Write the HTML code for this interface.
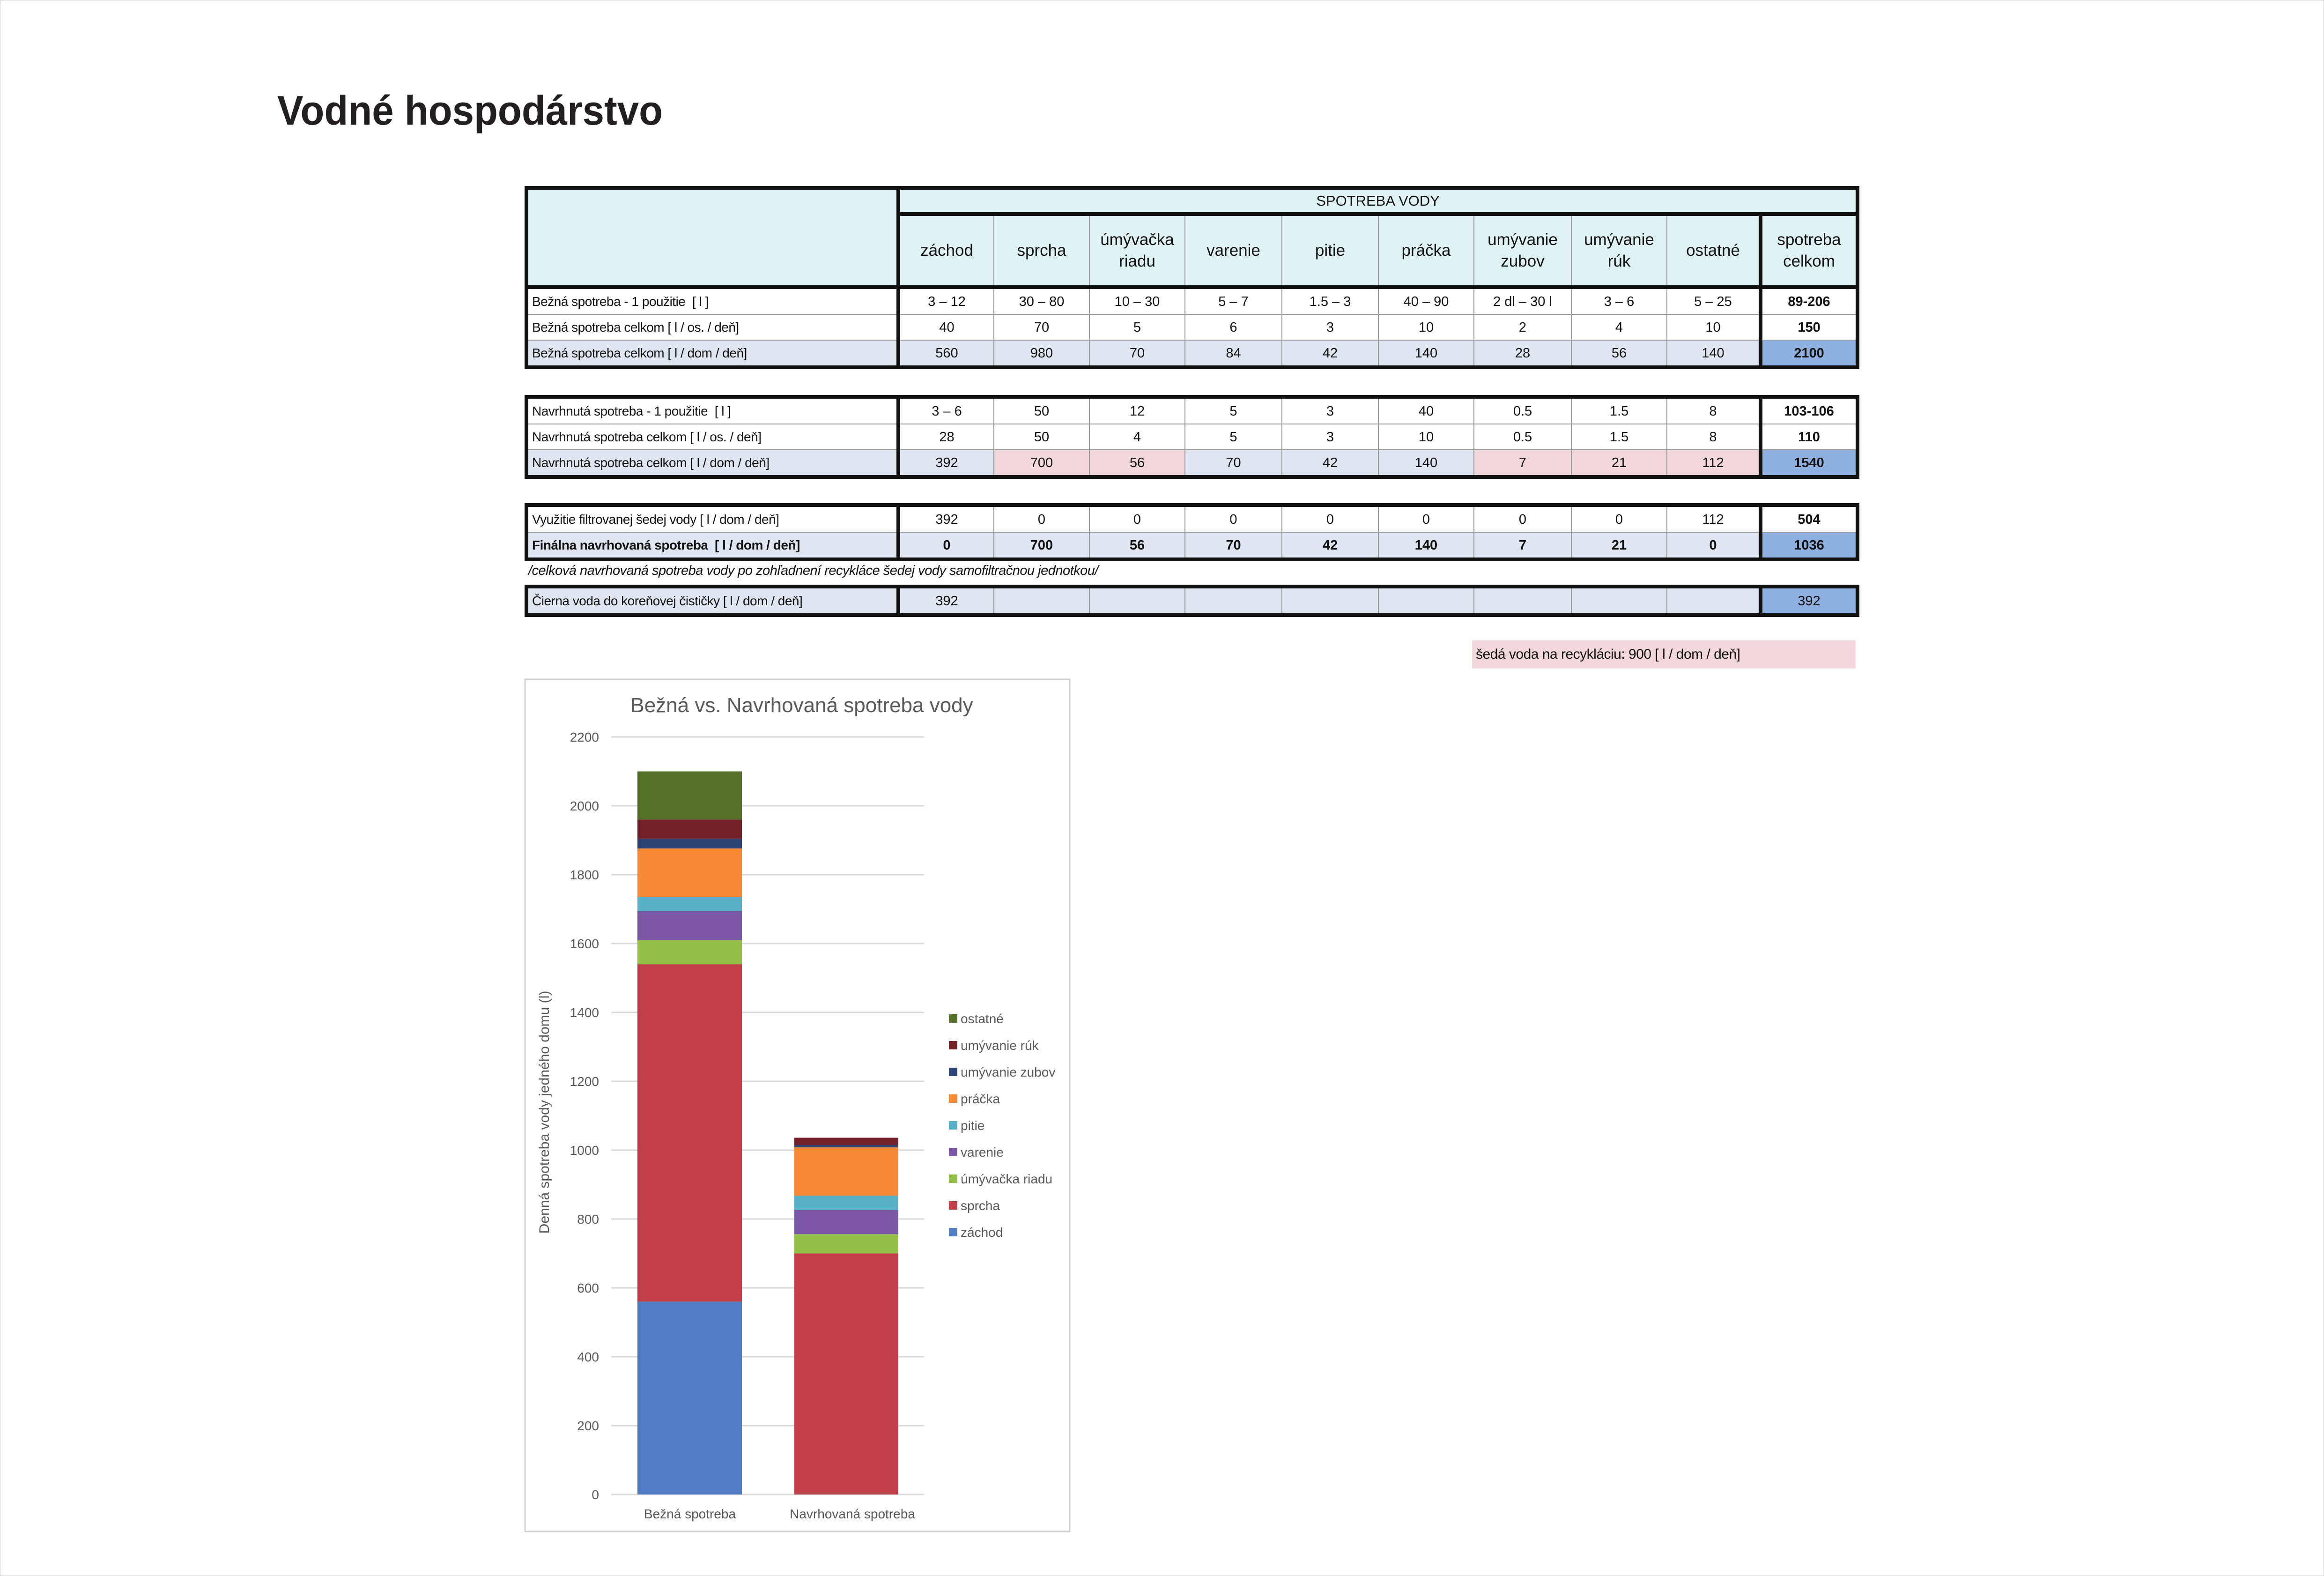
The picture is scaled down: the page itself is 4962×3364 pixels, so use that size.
<!DOCTYPE html>
<html><head><meta charset="utf-8"><style>
html,body{margin:0;padding:0;background:#fff}
body{width:4962px;height:3364px;position:relative;overflow:hidden;font-family:"Liberation Sans Narrow","Liberation Sans",sans-serif;color:#111}
.frame{position:absolute;left:0;top:0;width:4960px;height:3362px;border:1px solid #d0d0d0}
table{position:absolute;left:1120px;border-collapse:collapse;table-layout:fixed;width:2846px}
td{border:2px solid #9a9a9a;text-align:center;font-size:29px;padding:0;height:53px;line-height:30px;white-space:nowrap;overflow:hidden}
td.l{text-align:left;padding-left:8px;font-size:28px;letter-spacing:-0.5px}
td.h{font-size:35px;line-height:46px;background:#dff3f4}
.b{font-weight:bold}
.lb{background:#dfe6f1}.pk{background:#f2d7dc}.bl{background:#8eb1e1}
.tt{border-top:8px solid #111}
.bb{border-bottom:8px solid #111}
.rr{border-right:8px solid #111}
.ll{border-left:8px solid #111}
</style></head><body>
<div class="frame"></div>
<svg style="position:absolute;left:0;top:0" width="4962" height="3364">
<text x="592" y="266" font-family="Liberation Sans" font-weight="bold" font-size="88" fill="#231f20" textLength="823" lengthAdjust="spacingAndGlyphs">Vodné hospodárstvo</text>
</svg>

<table style="top:397px">
<colgroup><col style="width:794px"><col style="width:204px"><col style="width:204px"><col style="width:204px"><col style="width:207px"><col style="width:206px"><col style="width:204px"><col style="width:208px"><col style="width:204px"><col style="width:200px"><col style="width:207px"></colgroup>
<tr><td rowspan="2" class="h tt ll rr bb"></td><td colspan="10" class="h tt rr bb" style="height:48px;font-size:31px">SPOTREBA VODY</td></tr>
<tr><td class="h bb" style="height:148px">záchod</td><td class="h bb">sprcha</td><td class="h bb">úmývačka<br>riadu</td><td class="h bb">varenie</td><td class="h bb">pitie</td><td class="h bb">práčka</td><td class="h bb">umývanie<br>zubov</td><td class="h bb">umývanie<br>rúk</td><td class="h bb">ostatné</td><td class="h bb ll rr">spotreba<br>celkom</td></tr>
<tr><td class="l ll rr">Bežná spotreba - 1 použitie&nbsp; [ l ]</td><td>3 – 12</td><td>30 – 80</td><td>10 – 30</td><td>5 – 7</td><td>1.5 – 3</td><td>40 – 90</td><td>2 dl – 30 l</td><td>3 – 6</td><td>5 – 25</td><td class="b ll rr">89-206</td></tr>
<tr><td class="l ll rr">Bežná spotreba celkom [ l / os. / deň]</td><td>40</td><td>70</td><td>5</td><td>6</td><td>3</td><td>10</td><td>2</td><td>4</td><td>10</td><td class="b ll rr">150</td></tr>
<tr class="lb"><td class="l ll rr bb">Bežná spotreba celkom [ l / dom / deň]</td><td class="bb">560</td><td class="bb">980</td><td class="bb">70</td><td class="bb">84</td><td class="bb">42</td><td class="bb">140</td><td class="bb">28</td><td class="bb">56</td><td class="bb">140</td><td class="b ll rr bb bl">2100</td></tr>
</table>

<table style="top:843px">
<colgroup><col style="width:794px"><col style="width:204px"><col style="width:204px"><col style="width:204px"><col style="width:207px"><col style="width:206px"><col style="width:204px"><col style="width:208px"><col style="width:204px"><col style="width:200px"><col style="width:207px"></colgroup>
<tr><td class="l ll rr tt">Navrhnutá spotreba - 1 použitie&nbsp; [ l ]</td><td class="tt">3 – 6</td><td class="tt">50</td><td class="tt">12</td><td class="tt">5</td><td class="tt">3</td><td class="tt">40</td><td class="tt">0.5</td><td class="tt">1.5</td><td class="tt">8</td><td class="b ll rr tt">103-106</td></tr>
<tr><td class="l ll rr">Navrhnutá spotreba celkom [ l / os. / deň]</td><td>28</td><td>50</td><td>4</td><td>5</td><td>3</td><td>10</td><td>0.5</td><td>1.5</td><td>8</td><td class="b ll rr">110</td></tr>
<tr><td class="l ll rr bb lb">Navrhnutá spotreba celkom [ l / dom / deň]</td><td class="bb lb">392</td><td class="bb pk">700</td><td class="bb pk">56</td><td class="bb lb">70</td><td class="bb lb">42</td><td class="bb lb">140</td><td class="bb pk">7</td><td class="bb pk">21</td><td class="bb pk">112</td><td class="b ll rr bb bl">1540</td></tr>
</table>

<table style="top:1074px">
<colgroup><col style="width:794px"><col style="width:204px"><col style="width:204px"><col style="width:204px"><col style="width:207px"><col style="width:206px"><col style="width:204px"><col style="width:208px"><col style="width:204px"><col style="width:200px"><col style="width:207px"></colgroup>
<tr><td class="l ll rr tt">Využitie filtrovanej šedej vody [ l / dom / deň]</td><td class="tt">392</td><td class="tt">0</td><td class="tt">0</td><td class="tt">0</td><td class="tt">0</td><td class="tt">0</td><td class="tt">0</td><td class="tt">0</td><td class="tt">112</td><td class="b ll rr tt">504</td></tr>
<tr class="lb b"><td class="l ll rr bb">Finálna navrhovaná spotreba&nbsp; [ l / dom / deň]</td><td class="bb">0</td><td class="bb">700</td><td class="bb">56</td><td class="bb">70</td><td class="bb">42</td><td class="bb">140</td><td class="bb">7</td><td class="bb">21</td><td class="bb">0</td><td class="ll rr bb bl">1036</td></tr>
</table>
<div style="position:absolute;left:1128px;top:1202px;font-size:29px;line-height:32px;font-style:italic;letter-spacing:-0.5px;white-space:nowrap">/celková navrhovaná spotreba vody po zohľadnení recykláce šedej vody samofiltračnou jednotkou/</div>

<table style="top:1248px">
<colgroup><col style="width:794px"><col style="width:204px"><col style="width:204px"><col style="width:204px"><col style="width:207px"><col style="width:206px"><col style="width:204px"><col style="width:208px"><col style="width:204px"><col style="width:200px"><col style="width:207px"></colgroup>
<tr class="lb"><td class="l ll rr tt bb">Čierna voda do koreňovej čističky [ l / dom / deň]</td><td class="tt bb">392</td><td class="tt bb"></td><td class="tt bb"></td><td class="tt bb"></td><td class="tt bb"></td><td class="tt bb"></td><td class="tt bb"></td><td class="tt bb"></td><td class="tt bb"></td><td class="ll rr tt bb bl">392</td></tr>
</table>

<div style="position:absolute;left:3143px;top:1367px;width:819px;height:60px;background:#f2d7dc;font-size:30px;line-height:60px;padding-left:8px;box-sizing:border-box;letter-spacing:-0.5px">šedá voda na recykláciu: 900 [ l / dom / deň]</div>

<svg style="position:absolute;left:0;top:0" width="4962" height="3364" font-family="Liberation Sans, sans-serif">
<rect x="1121" y="1450" width="1163" height="1819" fill="#fff" stroke="#d0d0d0" stroke-width="3"/>
<text x="1712" y="1520" text-anchor="middle" font-size="44" fill="#595959">Bežná vs. Navrhovaná spotreba vody</text>
<g stroke="#d9d9d9" stroke-width="3">
<line x1="1305" x2="1973" y1="3190" y2="3190"/><line x1="1305" x2="1973" y1="3043" y2="3043"/><line x1="1305" x2="1973" y1="2896" y2="2896"/><line x1="1305" x2="1973" y1="2749" y2="2749"/><line x1="1305" x2="1973" y1="2602" y2="2602"/><line x1="1305" x2="1973" y1="2455" y2="2455"/><line x1="1305" x2="1973" y1="2308" y2="2308"/><line x1="1305" x2="1973" y1="2161" y2="2161"/><line x1="1305" x2="1973" y1="2014" y2="2014"/><line x1="1305" x2="1973" y1="1867" y2="1867"/><line x1="1305" x2="1973" y1="1720" y2="1720"/><line x1="1305" x2="1973" y1="1573" y2="1573"/>
</g>
<g font-size="28" fill="#595959" text-anchor="end">
<text x="1279" y="3200">0</text><text x="1279" y="3053">200</text><text x="1279" y="2906">400</text><text x="1279" y="2759">600</text><text x="1279" y="2612">800</text><text x="1279" y="2465">1000</text><text x="1279" y="2318">1200</text><text x="1279" y="2171">1400</text><text x="1279" y="2024">1600</text><text x="1279" y="1877">1800</text><text x="1279" y="1730">2000</text><text x="1279" y="1583">2200</text>
</g>
<rect x="1361" y="2778.4" width="223" height="411.6" fill="#527cc3"/>
<rect x="1361" y="2058.1" width="223" height="720.3" fill="#c23e49"/>
<rect x="1361" y="2006.7" width="223" height="51.4" fill="#93bf48"/>
<rect x="1361" y="1944.9" width="223" height="61.8" fill="#7b58a6"/>
<rect x="1361" y="1914.0" width="223" height="30.9" fill="#59afc6"/>
<rect x="1361" y="1811.1" width="223" height="102.9" fill="#f58936"/>
<rect x="1361" y="1790.6" width="223" height="20.5" fill="#2d4574"/>
<rect x="1361" y="1749.4" width="223" height="41.2" fill="#74222a"/>
<rect x="1361" y="1646.5" width="223" height="102.9" fill="#557129"/>
<rect x="1696" y="2675.5" width="222" height="514.5" fill="#c23e49"/>
<rect x="1696" y="2634.3" width="222" height="41.2" fill="#93bf48"/>
<rect x="1696" y="2582.9" width="222" height="51.4" fill="#7b58a6"/>
<rect x="1696" y="2552.0" width="222" height="30.9" fill="#59afc6"/>
<rect x="1696" y="2449.1" width="222" height="102.9" fill="#f58936"/>
<rect x="1696" y="2444.0" width="222" height="5.1" fill="#2d4574"/>
<rect x="1696" y="2428.5" width="222" height="15.5" fill="#74222a"/>
<g font-size="28" fill="#595959" text-anchor="middle">
<text x="1473" y="3241">Bežná spotreba</text>
<text x="1820" y="3241">Navrhovaná spotreba</text>
</g>
<text transform="translate(1172,2374) rotate(-90)" text-anchor="middle" font-size="30" fill="#595959" font-family="Liberation Sans Narrow, Liberation Sans, sans-serif">Denná spotreba vody jedného domu (l)</text>
<g font-size="28" fill="#595959">
<rect x="2026" y="2165" width="18" height="18" fill="#557129"/><text x="2051" y="2184">ostatné</text>
<rect x="2026" y="2222" width="18" height="18" fill="#74222a"/><text x="2051" y="2241">umývanie rúk</text>
<rect x="2026" y="2279" width="18" height="18" fill="#2d4574"/><text x="2051" y="2298">umývanie zubov</text>
<rect x="2026" y="2336" width="18" height="18" fill="#f58936"/><text x="2051" y="2355">práčka</text>
<rect x="2026" y="2393" width="18" height="18" fill="#59afc6"/><text x="2051" y="2412">pitie</text>
<rect x="2026" y="2450" width="18" height="18" fill="#7b58a6"/><text x="2051" y="2469">varenie</text>
<rect x="2026" y="2507" width="18" height="18" fill="#93bf48"/><text x="2051" y="2526">úmývačka riadu</text>
<rect x="2026" y="2564" width="18" height="18" fill="#c23e49"/><text x="2051" y="2583">sprcha</text>
<rect x="2026" y="2621" width="18" height="18" fill="#527cc3"/><text x="2051" y="2640">záchod</text>
</g>
</svg>
</body></html>
